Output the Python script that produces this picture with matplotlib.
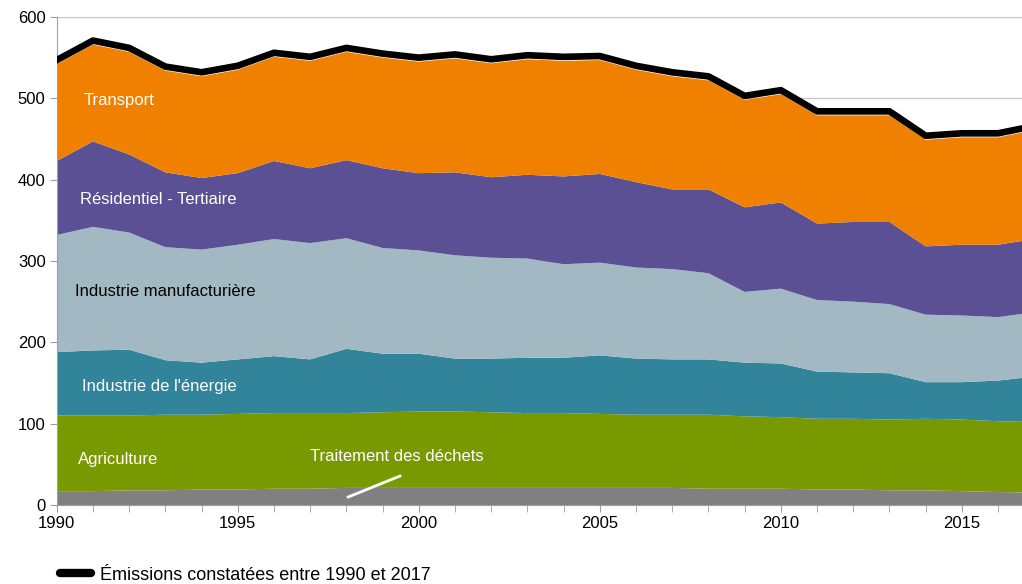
import matplotlib

matplotlib.use("Agg")
import matplotlib.pyplot as plt
import numpy as np

plt.rcParams["font.family"] = ["Liberation Sans", "DejaVu Sans"]

years = np.arange(1990, 2018)

# emissions par secteur (Mt CO2e)
dechets = [17, 17, 18, 18, 19, 19, 20, 20, 21, 21, 21, 21, 21, 21,
           21, 21, 21, 21, 20, 20, 20, 19, 19, 18, 18, 17, 16, 15]
agriculture = [93, 93, 92, 93, 92, 93, 93, 93, 92, 93, 94, 94, 93, 92,
               92, 91, 90, 90, 91, 89, 88, 87, 87, 87, 88, 88, 87, 87]
energie = [78, 80, 81, 67, 64, 67, 70, 66, 79, 72, 71, 65, 66, 68,
           68, 72, 69, 68, 68, 66, 66, 58, 57, 57, 45, 46, 50, 56]
manufacturiere = [144, 152, 144, 139, 139, 141, 144, 143, 136, 130, 127, 127, 124, 122,
                  115, 114, 112, 111, 106, 87, 92, 88, 87, 85, 83, 82, 78, 79]
residentiel = [91, 105, 96, 92, 88, 88, 96, 92, 96, 98, 95, 102, 99, 103,
               108, 109, 105, 98, 103, 104, 106, 94, 98, 101, 84, 87, 89, 90]
transport = [119, 119, 126, 125, 125, 127, 128, 132, 133, 136, 137, 140, 140, 142,
             142, 140, 138, 139, 134, 132, 133, 133, 131, 131, 131, 132, 132, 134]
total = [547, 571, 562, 539, 532, 540, 556, 551, 562, 555, 550, 554, 548, 553,
         551, 552, 540, 532, 527, 503, 510, 484, 484, 484, 454, 457, 457, 466]

colors = ["#808080", "#789A00", "#318499", "#A2B9C3", "#5B5094", "#F08000"]

fig = plt.figure(figsize=(10.22, 5.84), dpi=100)
ax = fig.add_axes([0.0555, 0.1353, 0.9445, 0.8356])

ax.stackplot(years, dechets, agriculture, energie, manufacturiere, residentiel, transport,
             colors=colors, linewidth=0, zorder=2)
line, = ax.plot(years, total, color="black", linewidth=4.8, zorder=3,
                label="Émissions constatées entre 1990 et 2017")

ax.set_xlim(1990, 2016.66)
ax.set_ylim(0, 600)
ax.set_yticks(range(0, 700, 100))
ax.set_xticks(range(1990, 2017, 5))
ax.set_xticks(range(1990, 2017), minor=True)
ax.grid(axis="y", color="#C8C8C8", linewidth=1, zorder=0)
ax.set_axisbelow(True)

for side in ["top", "right"]:
    ax.spines[side].set_visible(False)
for side in ["left", "bottom"]:
    ax.spines[side].set_color("#A0A0A0")
ax.tick_params(axis="both", which="both", color="#A0A0A0", length=5, labelsize=12)
ax.tick_params(axis="x", which="major", pad=3)
ax.tick_params(axis="y", pad=3)

txt = dict(fontsize=12, va="center", ha="left")
ax.text(1990.73, 497, "Transport", color="white", **txt)
ax.text(1990.64, 375, "Résidentiel - Tertiaire", color="white", **txt)
ax.text(1990.5, 262, "Industrie manufacturière", color="black", **txt)
ax.text(1990.7, 146, "Industrie de l'énergie", color="white", **txt)
ax.text(1990.59, 56, "Agriculture", color="white", **txt)
ax.text(1997.0, 59, "Traitement des déchets", color="white", **txt)
ax.plot([1998.05, 1999.48], [9.8, 35.6], color="white", linewidth=2, zorder=4)

leg_handle = plt.Line2D([], [], color="black", linewidth=6, solid_capstyle="round")
fig.legend(handles=[leg_handle], labels=[line.get_label()], loc="lower left",
           bbox_to_anchor=(0.043, -0.027), frameon=False, fontsize=13,
           handlelength=1.7, handletextpad=0.5)

fig.savefig("out.png", dpi=100)
